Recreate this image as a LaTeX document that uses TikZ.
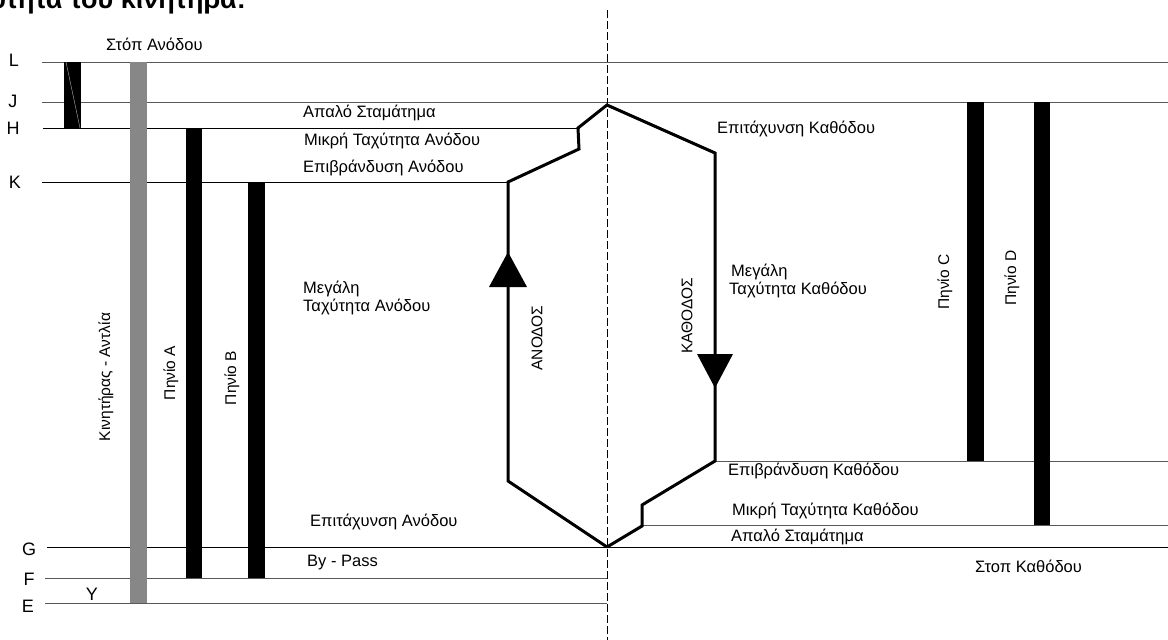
\documentclass[tikz,border=0pt]{standalone}
\usepackage{fontspec}
\setmainfont{Liberation Sans}
\begin{document}
\begin{tikzpicture}[x=1pt,y=-1pt,
  txt/.style={anchor=west,inner sep=0pt,font=\fontsize{16.5}{18}\selectfont},
  rtxt/.style={inner sep=0pt,rotate=90,font=\fontsize{15.5}{18}\selectfont},
  letter/.style={inner sep=0pt,font=\fontsize{18}{20}\selectfont},
  gline/.style={draw=black!65,line width=1pt},
  bline/.style={draw=black,line width=1pt},
  coil/.style={fill=black},
  profile/.style={draw=black,line width=3pt,line join=miter},
  tri/.style={fill=black}]
\useasboundingbox (0,0) rectangle (1168,640);
\clip (0,0) rectangle (1168,640);

% header (clipped at top, as in the reference)
\node[anchor=base east,inner sep=0pt,font=\bfseries\fontsize{27}{30}\selectfont] (hdr) at (246,8) {Ταχύτητα του κινητήρα:};

% level lines
\draw[gline] (42,62) -- (1168,62);
\draw[gline] (42,102) -- (1168,102);
\draw[bline] (43,128) -- (580,128);
\draw[bline] (42,182) -- (508,182);
\draw[bline] (47,547) -- (1168,547);
\draw[gline] (45,578) -- (607,578);
\draw[gline] (45,603) -- (607,603);
\draw[gline] (715,461) -- (1168,461);
\draw[gline] (642,525) -- (1168,525);

% dashed axis
\draw[black,line width=1pt,dash pattern=on 8pt off 3pt] (607,10) -- (607,640);

% bars
\fill[coil] (64,62) rectangle (81,128);
\draw[white!70!black,line width=0.4pt] (66,62) -- (80,128);
\fill[black!47] (130,62) rectangle (147,603);
\fill[coil] (186,128) rectangle (202,578);
\fill[coil] (248,182) rectangle (265,578);
\fill[coil] (967,102) rectangle (984,461);
\fill[coil] (1034,102) rectangle (1050,525);

% speed profile
\draw[profile] (607,547) -- (508,481) -- (508,182) -- (579,149) -- (578,128) -- (607,105)
  -- (715,153) -- (715,461) -- (642,505) -- (642,526) -- (607,547);

% direction arrows
\fill[tri] (508,252) -- (489,287) -- (527,287) -- cycle;
\fill[tri] (697,354) -- (733,354) -- (715,388) -- cycle;

% level letters
\node[letter] (nL) at (14,60) {L};
\node[letter] (nJ) at (13,101) {J};
\node[letter] (nH) at (13,128) {H};
\node[letter] (nK) at (15,182) {K};
\node[letter] (nG) at (29,549) {G};
\node[letter] (nF) at (29,579) {F};
\node[letter] (nE) at (28,606) {E};
\node[letter] (nY) at (92,594) {Y};

% labels
\node[txt] (t1) at (106,44) {Στόπ Ανόδου};
\node[txt] (t2) at (303,113) {Απαλό Σταμάτημα};
\node[txt] (t3) at (304,141) {Μικρή Ταχύτητα Ανόδου};
\node[txt] (t4) at (303,168) {Επιβράνδυση Ανόδου};
\node[txt,align=left] (t5) at (303,298) {Μεγάλη\\Ταχύτητα Ανόδου};
\node[txt] (t6) at (310,522) {Επιτάχυνση Ανόδου};
\node[txt] (t7) at (307,563) {By - Pass};
\node[txt] (t8) at (717,129) {Επιτάχυνση Καθόδου};
\node[txt,align=left] (t9) at (729,281) {\hspace{2pt}Μεγάλη\\Ταχύτητα Καθόδου};
\node[txt] (t10) at (728,471) {Επιβράνδυση Καθόδου};
\node[txt] (t11) at (732,511) {Μικρή Ταχύτητα Καθόδου};
\node[txt] (t12) at (731,537) {Απαλό Σταμάτημα};
\node[txt] (t13) at (975,566) {Στοπ Καθόδου};

% rotated labels
\node[rtxt] (r1) at (106,377) {Κινητήρας - Αντλία};
\node[rtxt] (r2) at (171,373) {Πηνίο A};
\node[rtxt] (r3) at (232,378) {Πηνίο B};
\node[rtxt] (r4) at (537,338) {ΑΝΟΔΟΣ};
\node[rtxt] (r5) at (687,316) {ΚΑΘΟΔΟΣ};
\node[rtxt] (r6) at (945,282) {Πηνίο C};
\node[rtxt] (r7) at (1012,278) {Πηνίο D};
\end{tikzpicture}
\end{document}
